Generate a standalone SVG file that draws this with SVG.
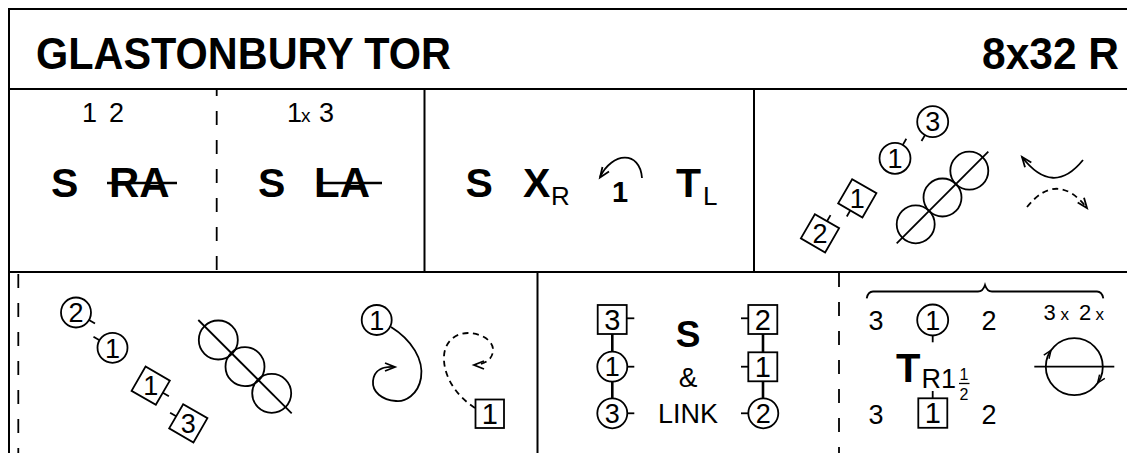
<svg xmlns="http://www.w3.org/2000/svg" width="1127" height="453" viewBox="0 0 1127 453">
<defs>
<style>
.ln{stroke:#000;stroke-width:2;fill:none}
.dash{stroke-dasharray:14 15;stroke-width:1.8}
.s{stroke:#000;stroke-width:1.8;fill:none}
.sd{stroke-dasharray:6 4.5}
.t{font-family:"Liberation Sans",Arial,Helvetica,sans-serif;fill:#000}
.b{font-weight:bold}
.dg{font-family:"Liberation Sans",Arial,Helvetica,sans-serif;font-size:27px;text-anchor:middle;fill:#000}
.bx{font-size:29px}
.mid{text-anchor:middle}
</style>
<path id="ah" d="M-10,-4 L0,0 L-10,4" fill="none" stroke="#000" stroke-width="1.8"/>
</defs>
<rect width="1127" height="453" fill="#fff"/>

<g id="frame" class="ln">
<path d="M9,453 V9 H1127"/>
<path d="M9,89 H1127"/>
<path d="M9,272 H1127"/>
<path d="M424.5,89 V272 M754,89 V272 M537.5,272 V453"/>
<path class="dash" d="M216.7,89 V272" stroke-dashoffset="7"/>
<path class="dash" d="M18.3,274 V453"/>
<path class="dash" d="M839,273 V453"/>
</g>

<g id="title" class="t b">
<text x="36" y="69" font-size="45" textLength="415" lengthAdjust="spacingAndGlyphs">GLASTONBURY TOR</text>
<text x="982" y="69" font-size="45" textLength="137" lengthAdjust="spacingAndGlyphs">8x32 R</text>
</g>

<g id="p1" class="t">
<text x="82" y="122" font-size="27">1</text>
<text x="109" y="122" font-size="27">2</text>
<text x="51" y="197" font-size="41" class="b">S</text>
<text x="109" y="197" font-size="42" class="b">RA</text>
<line x1="107" y1="183" x2="177" y2="183" stroke="#000" stroke-width="2.5"/>
</g>

<g id="p2" class="t">
<text x="287" y="122" font-size="27">1</text>
<text x="301" y="122" font-size="19">x</text>
<text x="319" y="122" font-size="27">3</text>
<text x="258" y="197" font-size="41" class="b">S</text>
<text x="314" y="197" font-size="42" class="b">LA</text>
<line x1="317" y1="183" x2="382" y2="183" stroke="#000" stroke-width="2.5"/>
</g>

<g id="p3" class="t">
<text x="465.5" y="197" font-size="41" class="b">S</text>
<text x="523" y="197" font-size="41" class="b">X</text>
<text x="551" y="205" font-size="26">R</text>
<path class="s" d="M642,178 C640,150 612,152 600,177"/>
<use href="#ah" transform="translate(600,177.5) rotate(125)"/>
<text x="612" y="202" font-size="29" class="b">1</text>
<text x="676" y="197" font-size="41" class="b">T</text>
<text x="703" y="205" font-size="26">L</text>
</g>

<g id="p4">
<circle class="s" cx="932.7" cy="121.7" r="15.5"/>
<text class="dg" x="932.7" y="131.4">3</text>
<line class="s" x1="925" y1="135.1" x2="921.5" y2="141"/>
<circle class="s" cx="895" cy="158.3" r="15.5"/>
<text class="dg" x="895" y="168">1</text>
<line class="s" x1="902.8" y1="144.9" x2="906.3" y2="138.8"/>
<g class="s" transform="translate(857.3,198.3) rotate(30)"><rect x="-14" y="-14" width="28" height="28"/><line x1="0" y1="14" x2="0" y2="21"/></g>
<text class="dg" x="857.3" y="208">1</text>
<g class="s" transform="translate(820,233.3) rotate(30)"><rect x="-14" y="-14" width="28" height="28"/><line x1="0" y1="-14" x2="0" y2="-21"/></g>
<text class="dg" x="820" y="243">2</text>
<circle class="s" cx="915.7" cy="224.3" r="19"/>
<circle class="s" cx="942.5" cy="197.5" r="19"/>
<circle class="s" cx="969.3" cy="170.7" r="19"/>
<line class="s" x1="896.7" y1="243.3" x2="988.3" y2="151.7"/>
<path class="s" d="M1083,160 Q1053,197 1022,157"/>
<use href="#ah" transform="translate(1022,157) rotate(-128)"/>
<path class="s sd" d="M1027,207 Q1057,170 1087,208"/>
<use href="#ah" transform="translate(1087,208) rotate(52)"/>
</g>

<g id="p5">
<circle class="s" cx="76" cy="312.5" r="15"/>
<text class="dg" x="76" y="322.2">2</text>
<line class="s" x1="89" y1="320" x2="95" y2="323.5"/>
<circle class="s" cx="112.5" cy="347.8" r="15"/>
<text class="dg" x="112.5" y="357.5">1</text>
<line class="s" x1="99.5" y1="340.3" x2="93.5" y2="336.8"/>
<g class="s" transform="translate(150.7,385.7) rotate(30)"><rect x="-14" y="-14" width="28" height="28"/><line x1="14" y1="0" x2="21" y2="0"/></g>
<text class="dg" x="150.7" y="395.4">1</text>
<g class="s" transform="translate(188.3,423.3) rotate(30)"><rect x="-14" y="-14" width="28" height="28"/><line x1="-14" y1="0" x2="-21" y2="0"/></g>
<text class="dg" x="188.3" y="433">3</text>
<circle class="s" cx="218.3" cy="340" r="19.5"/>
<circle class="s" cx="245" cy="366.7" r="19.5"/>
<circle class="s" cx="271.7" cy="393.3" r="19.5"/>
<line class="s" x1="198.3" y1="320" x2="291.7" y2="413.3"/>
</g>

<g id="p6">
<circle class="s" cx="376.7" cy="320" r="15"/>
<text class="dg" x="376.7" y="329.7">1</text>
<path class="s" d="M391,327 C412,340 424,360 421,378 C418,395 405,402 396,401 C382,400 372,392 373,381 C374,370 383,366 395,367"/>
<use href="#ah" transform="translate(395,367) rotate(0)"/>
<rect class="s" x="475.5" y="399.5" width="28.5" height="28.5"/>
<text class="dg bx" x="489.7" y="424.2">1</text>
<path class="s sd" d="M475,408 C455,395 443,375 444,356 C445,340 457,333 468,333 C480,333 494,340 493,351 C492,360 485,364 474,365"/>
<use href="#ah" transform="translate(474,365) rotate(180)"/>
</g>

<g id="p7">
<rect class="s" x="597.7" y="305" width="29" height="29"/>
<text class="dg bx" x="612.2" y="329.8">3</text>
<line class="s" x1="626.7" y1="318.3" x2="634.3" y2="318.3"/>
<line x1="612.3" y1="334" x2="612.3" y2="352" stroke="#000" stroke-width="2.6"/>
<circle class="s" cx="612.3" cy="366.7" r="15"/>
<text class="dg" x="612.3" y="376.4">1</text>
<line class="s" x1="627.3" y1="366.7" x2="634.3" y2="366.7"/>
<line x1="612.3" y1="381.7" x2="612.3" y2="398.3" stroke="#000" stroke-width="2.6"/>
<circle class="s" cx="612.3" cy="413.3" r="15"/>
<text class="dg" x="612.3" y="423">3</text>
<line class="s" x1="627.3" y1="413.3" x2="634.3" y2="413.3"/>
<text class="t b mid" x="688" y="346.7" font-size="37">S</text>
<text class="t mid" x="688" y="386.7" font-size="28">&amp;</text>
<text class="t mid" x="688" y="423.3" font-size="27">LINK</text>
<rect class="s" x="748.3" y="305" width="29" height="29"/>
<text class="dg bx" x="762.8" y="329.8">2</text>
<line class="s" x1="741" y1="318.3" x2="748.3" y2="318.3"/>
<line x1="763" y1="334" x2="763" y2="352.3" stroke="#000" stroke-width="2.6"/>
<rect class="s" x="748.3" y="352.3" width="29" height="29"/>
<text class="dg bx" x="762.8" y="377.1">1</text>
<line class="s" x1="741" y1="366.7" x2="748.3" y2="366.7"/>
<line x1="763" y1="381.3" x2="763" y2="398.3" stroke="#000" stroke-width="2.6"/>
<circle class="s" cx="763.3" cy="413.3" r="15"/>
<text class="dg" x="763.3" y="423">2</text>
<line class="s" x1="741" y1="413.3" x2="748.3" y2="413.3"/>
</g>

<g id="p8">
<path class="s" stroke-width="1.6" d="M866.7,298.3 Q868,291.5 873,291.5 L978,291.5 Q983,291.5 985,285 Q987,291.5 992,291.5 L1097,291.5 Q1102,291.5 1103.3,298.3"/>
<text class="t mid" x="876" y="330" font-size="27">3</text>
<circle class="s" cx="932.7" cy="320" r="15.5"/>
<text class="dg" x="932.7" y="329.7">1</text>
<line class="s" x1="932.7" y1="335.5" x2="932.7" y2="342.3"/>
<text class="t mid" x="989" y="330" font-size="27">2</text>
<text class="t" x="1043.5" y="320" font-size="22">3</text>
<text class="t" x="1060.5" y="320" font-size="17">x</text>
<text class="t" x="1079" y="320" font-size="22">2</text>
<text class="t" x="1095.5" y="320" font-size="17">x</text>
<text class="t b" x="896" y="381.7" font-size="40">T</text>
<text class="t" x="921.5" y="388.3" font-size="27">R1</text>
<text class="t mid" x="964" y="380" font-size="16">1</text>
<line x1="959" y1="383.5" x2="969.5" y2="383.5" stroke="#000" stroke-width="1.3"/>
<text class="t mid" x="964" y="400" font-size="16">2</text>
<line class="s" x1="932.7" y1="391" x2="932.7" y2="398.3"/>
<rect class="s" x="918.3" y="398.3" width="29" height="29.5"/>
<text class="dg bx" x="932.8" y="423.3">1</text>
<text class="t mid" x="876" y="424.3" font-size="27">3</text>
<text class="t mid" x="989" y="424.3" font-size="27">2</text>
<circle class="s" cx="1074.3" cy="366.7" r="28.5"/>
<line class="s" x1="1034.3" y1="366.7" x2="1114.3" y2="366.7"/>
<use href="#ah" transform="translate(1051,350.4) rotate(-55) scale(0.8)"/>
<use href="#ah" transform="translate(1097.6,383) rotate(125) scale(0.8)"/>
</g>
</svg>
